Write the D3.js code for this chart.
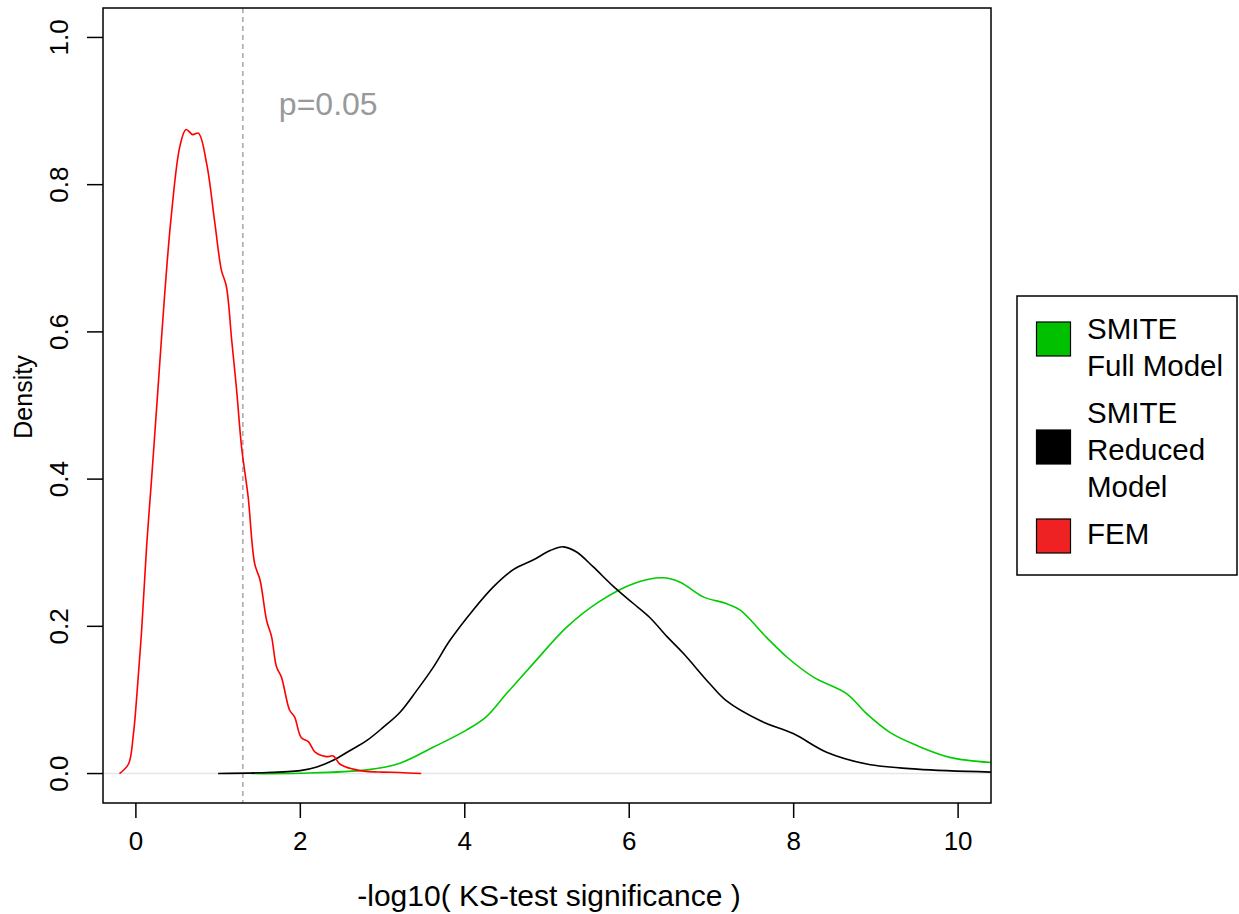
<!DOCTYPE html>
<html>
<head>
  <meta charset="utf-8">
  <title>KS-test density</title>
  <script src="https://cdn.jsdelivr.net/npm/d3@7"></script>
  <style>
    body { margin: 0; background: #fff; }
    text { font-family: "Liberation Sans", Arial, sans-serif; }
  </style>
</head>
<body>
<svg id="chart" width="1239" height="914"></svg>
<script>
// FEM density (red)
var femX = [-0.2, -0.09, -0.03, 0.01, 0.07, 0.13, 0.19, 0.27, 0.31, 0.37, 0.43, 0.535, 0.61, 0.69, 0.76, 0.86, 0.96, 1.04, 1.10, 1.165, 1.225, 1.285, 1.365, 1.445, 1.51, 1.59, 1.65, 1.71, 1.77, 1.87, 1.93, 2.01, 2.10, 2.18, 2.32, 2.40, 2.48, 2.64, 2.80, 3.0, 3.21, 3.47];
var femY = [0, 0.013, 0.054, 0.104, 0.195, 0.308, 0.399, 0.525, 0.589, 0.680, 0.757, 0.852, 0.875, 0.868, 0.870, 0.829, 0.748, 0.684, 0.662, 0.589, 0.521, 0.444, 0.376, 0.285, 0.263, 0.208, 0.186, 0.145, 0.131, 0.086, 0.077, 0.049, 0.043, 0.029, 0.023, 0.024, 0.013, 0.006, 0.003, 0.002, 0.0015, 0];

// SMITE reduced model (black)
var reducedX = [1.0, 1.5, 2.0, 2.2, 2.4, 2.6, 2.81, 3.01, 3.21, 3.41, 3.62, 3.82, 4.10, 4.35, 4.59, 4.83, 5.04, 5.20, 5.36, 5.56, 5.81, 6.05, 6.25, 6.46, 6.66, 6.98, 7.18, 7.59, 8.0, 8.40, 8.89, 9.50, 10.4];
var reducedY = [0, 0.001, 0.004, 0.009, 0.018, 0.031, 0.045, 0.063, 0.083, 0.112, 0.145, 0.181, 0.222, 0.254, 0.277, 0.290, 0.303, 0.308, 0.301, 0.281, 0.254, 0.231, 0.212, 0.186, 0.163, 0.122, 0.099, 0.072, 0.054, 0.029, 0.013, 0.006, 0.002];

// SMITE full model (green)
var fullX = [1.4, 2.0, 2.81, 3.21, 3.62, 4.02, 4.26, 4.51, 4.83, 5.24, 5.64, 6.05, 6.41, 6.62, 6.90, 7.18, 7.35, 7.67, 7.92, 8.24, 8.65, 8.89, 9.17, 9.50, 9.90, 10.4];
var fullY = [0, 0.0005, 0.005, 0.014, 0.036, 0.059, 0.077, 0.109, 0.149, 0.199, 0.234, 0.258, 0.266, 0.260, 0.240, 0.231, 0.222, 0.185, 0.158, 0.131, 0.108, 0.081, 0.056, 0.038, 0.022, 0.015];

var xTicks = [0, 2, 4, 6, 8, 10];
var yTicks = [0, 0.2, 0.4, 0.6, 0.8, 1.0];
var cutoff = -Math.log10(0.05);

var legendLabels = [['SMITE', 'Full Model'], ['SMITE', 'Reduced', 'Model'], ['FEM']];
var legendFills = ['#00c000', '#000000', '#ee2222'];

var svg = d3.select('#chart');
var margin = { left: 103, right: 248, top: 8, bottom: 111 };
var width = 1239, height = 914;

var x = d3.scaleLinear().domain([-0.4, 10.4]).range([margin.left, width - margin.right]);
var y = d3.scaleLinear().domain([-0.04, 1.04]).range([height - margin.bottom, margin.top]);

svg.append('clipPath').attr('id', 'plot-clip')
  .append('rect')
  .attr('x', margin.left).attr('y', margin.top)
  .attr('width', width - margin.right - margin.left)
  .attr('height', height - margin.bottom - margin.top);

var plot = svg.append('g').attr('clip-path', 'url(#plot-clip)');

// zero line
plot.append('line')
  .attr('x1', margin.left).attr('x2', width - margin.right)
  .attr('y1', y(0)).attr('y2', y(0))
  .attr('stroke', '#e6e6e6').attr('stroke-width', 1.5);

// p = 0.05 cutoff
plot.append('line')
  .attr('x1', x(cutoff)).attr('x2', x(cutoff))
  .attr('y1', margin.top).attr('y2', height - margin.bottom)
  .attr('stroke', '#999').attr('stroke-width', 1.3)
  .attr('stroke-dasharray', '5,4');

var line = d3.line()
  .x(d => x(d[0]))
  .y(d => y(Math.max(0, d[1])))
  .curve(d3.curveCatmullRom.alpha(0.5));

var series = [
  { xs: fullX, ys: fullY, color: '#00cc00' },
  { xs: reducedX, ys: reducedY, color: '#000000' },
  { xs: femX, ys: femY, color: '#ff0000' }
];

series.forEach(s => {
  plot.append('path')
    .datum(d3.zip(s.xs, s.ys))
    .attr('fill', 'none')
    .attr('stroke', s.color)
    .attr('stroke-width', 1.6)
    .attr('d', line);
});

svg.append('text')
  .attr('x', x(cutoff) + 36)
  .attr('y', 115)
  .attr('fill', '#999')
  .attr('font-size', 32)
  .text('p=0.05');

// frame
svg.append('rect')
  .attr('x', margin.left).attr('y', margin.top)
  .attr('width', width - margin.right - margin.left)
  .attr('height', height - margin.bottom - margin.top)
  .attr('fill', 'none').attr('stroke', '#000').attr('stroke-width', 1.5);

// x axis
var xAxis = svg.append('g');
xAxis.selectAll('line').data(xTicks).enter().append('line')
  .attr('x1', d => x(d)).attr('x2', d => x(d))
  .attr('y1', height - margin.bottom).attr('y2', height - margin.bottom + 15)
  .attr('stroke', '#000').attr('stroke-width', 1.5);
xAxis.selectAll('text').data(xTicks).enter().append('text')
  .attr('x', d => x(d)).attr('y', 850)
  .attr('text-anchor', 'middle')
  .attr('font-size', 26)
  .text(d => d);

svg.append('text')
  .attr('x', x(5) + 2).attr('y', 906)
  .attr('text-anchor', 'middle')
  .attr('font-size', 30)
  .text('-log10( KS-test significance )');

// y axis
var yAxis = svg.append('g');
yAxis.selectAll('line').data(yTicks).enter().append('line')
  .attr('x1', margin.left - 16).attr('x2', margin.left)
  .attr('y1', d => y(d)).attr('y2', d => y(d))
  .attr('stroke', '#000').attr('stroke-width', 1.5);
yAxis.selectAll('text').data(yTicks).enter().append('text')
  .attr('transform', d => 'translate(68,' + y(d) + ') rotate(-90)')
  .attr('text-anchor', 'middle')
  .attr('font-size', 26)
  .text(d => d.toFixed(1));

svg.append('text')
  .attr('transform', 'translate(32,397) rotate(-90)')
  .attr('text-anchor', 'middle')
  .attr('font-size', 25)
  .text('Density');

// legend
var legend = svg.append('g');
legend.append('rect')
  .attr('x', 1017).attr('y', 296)
  .attr('width', 220).attr('height', 279)
  .attr('fill', '#fff').attr('stroke', '#000').attr('stroke-width', 1.5);

var lineH = 37, gap = 10;
var firstBase = [339];
legendLabels.forEach((lab, i) => {
  if (i > 0) firstBase.push(firstBase[i - 1] + legendLabels[i - 1].length * lineH + gap);
});
var squareTop = [322, 430, 519];

legendLabels.forEach((lab, i) => {
  legend.append('rect')
    .attr('x', 1036.5).attr('y', squareTop[i])
    .attr('width', 34).attr('height', 34)
    .attr('fill', legendFills[i]).attr('stroke', '#000').attr('stroke-width', 1.2);
  lab.forEach((t, j) => {
    legend.append('text')
      .attr('x', 1087).attr('y', firstBase[i] + j * lineH)
      .attr('font-size', 29.5)
      .text(t);
  });
});
</script>
</body>
</html>
